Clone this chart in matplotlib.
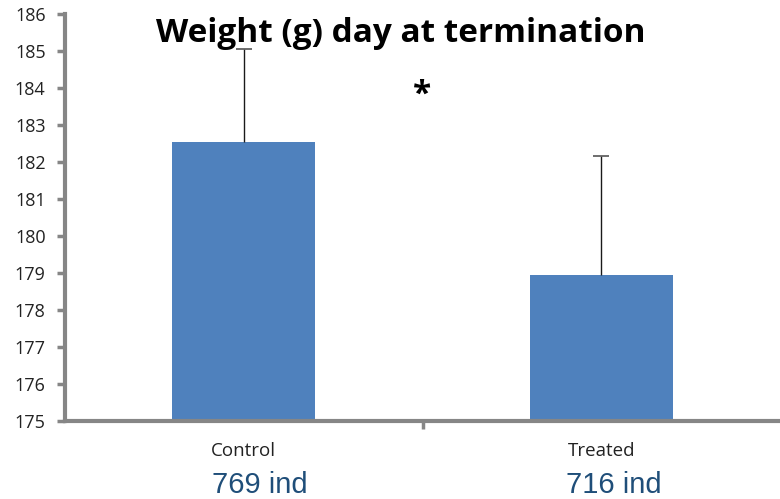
import matplotlib.pyplot as plt
import matplotlib.transforms as mtransforms

# data
groups = ["Control", "Treated"]
weights = [182.55, 178.95]
err_upper = [2.5, 3.2]
n_labels = ["769 ind", "716 ind"]
y_ticks = list(range(175, 187))

fig = plt.figure(figsize=(7.8, 4.99), dpi=100)
ax = fig.add_axes([65 / 780, 1 - 421 / 499, 1 - 65 / 780, (421 - 14) / 499])

x = [0, 1]
ax.bar(x, weights, width=0.4, color="#4F81BD", zorder=2)

# upper-only error bars: stem plus a cap at the top
tops = [w + e for w, e in zip(weights, err_upper)]
ax.vlines(x, weights, tops, color="#1a1a1a", linewidth=1, zorder=3)
ax.plot(x, tops, linestyle="none", marker="_", markersize=12,
        markeredgewidth=1.2, color="#555555", zorder=3)

ax.set_xlim(-0.5, 1.5)
ax.set_ylim(175, 186)
ax.set_yticks(y_ticks)
ax.set_yticklabels([str(t) for t in y_ticks], fontsize=13, family="Open Sans", color="#222222")

ax.set_xticks([0.5])
ax.set_xticklabels([])
ax.tick_params(axis="x", length=6, width=2.5, color="#868686", direction="out")
ax.tick_params(axis="y", length=6, width=2.5, color="#868686", direction="out", pad=8)

for side in ["top", "right"]:
    ax.spines[side].set_visible(False)
for side in ["left", "bottom"]:
    ax.spines[side].set_color("#868686")
    ax.spines[side].set_linewidth(3)

trans = mtransforms.blended_transform_factory(ax.transData, fig.transFigure)
for xi, g in zip(x, groups):
    ax.text(xi, 1 - 451 / 499, g, transform=trans, ha="center", va="center",
            fontsize=13.5, family="Open Sans", color="#222222")

# sample-size notes, left-aligned under the category names
for left_px, n in zip([212, 566], n_labels):
    fig.text(left_px / 780, 1 - 485 / 499, n, ha="left", va="center",
             fontsize=21, family="Liberation Sans", color="#1F4E79")

fig.text(401 / 780, 1 - 33 / 499, "Weight (g) day at termination", ha="center", va="center",
         fontsize=24, fontweight="bold", family="Open Sans")
fig.text(422 / 780, 1 - 95 / 499, "*", ha="center", va="center",
         fontsize=24, fontweight="bold", family="Open Sans")

fig.savefig("out.png", dpi=100)
